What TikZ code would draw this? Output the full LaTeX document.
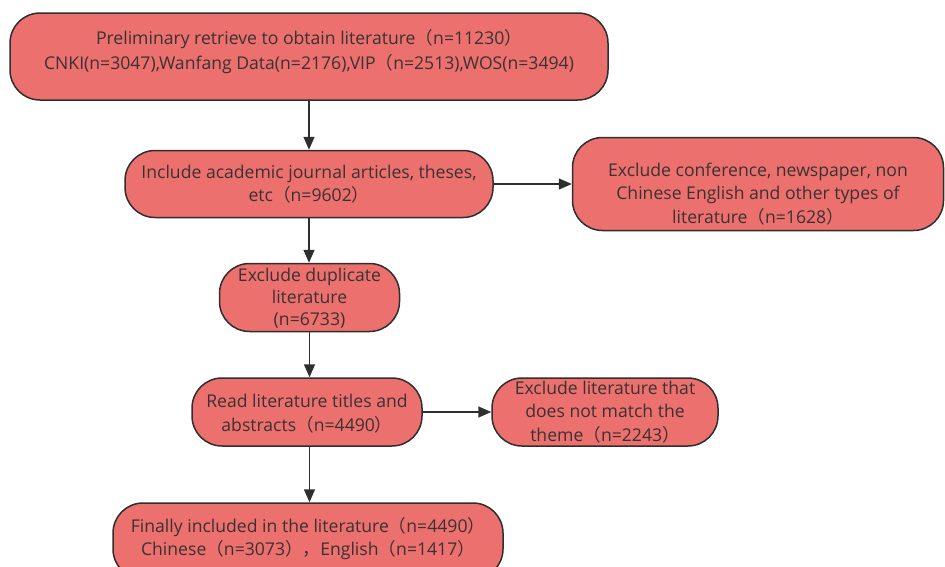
\documentclass[tikz,border=0pt]{standalone}
\usepackage{fontspec}
\setmainfont{Open Sans}
\newfontfamily\cjkfont{Noto Sans CJK SC}
\newcommand{\lp}{{\cjkfont （}}
\newcommand{\rp}{{\cjkfont ）}}
\newcommand{\fcomma}{{\cjkfont ，}}
\usetikzlibrary{arrows.meta}
\definecolor{boxfill}{HTML}{EC706E}
\definecolor{boxline}{HTML}{2E2E2E}
\definecolor{txt}{HTML}{3A3232}
\tikzset{
  flowbox/.style={draw=boxline, line width=1.5pt, fill=boxfill, rounded corners=30pt,
    align=center, text=txt, inner sep=0pt,
    font=\fontsize{17.6}{23.5}\selectfont},
  boxtext/.style={align=center, text=txt, inner sep=0pt},
  flowarrow/.style={draw=boxline, line width=1.5pt, -{Triangle[length=13pt,width=11pt]}}
}
\begin{document}
\begin{tikzpicture}[x=1pt,y=-1pt]
\useasboundingbox (0,0) rectangle (945,566);
\node[flowbox, minimum width=598pt, minimum height=87pt] (b1) at (309,56.5) {};
\node[boxtext, font=\fontsize{17.6}{25}\selectfont] (t1) at (309,52)
  {Preliminary retrieve to obtain literature\lp n=11230\rp\\
   CNKI(n=3047),Wanfang Data(n=2176),VIP\lp n=2513),WOS(n=3494)};
\node[flowbox, minimum width=368pt, minimum height=67pt] (b2) at (309,184)
  {Include academic journal articles, theses,\\ etc\lp n=9602\rp};
\node[flowbox, minimum width=371pt, minimum height=93pt] (b3) at (758,184) {};
\node[boxtext, font=\fontsize{17.6}{23.5}\selectfont] (t3) at (758,194)
  {Exclude conference, newspaper, non\\ Chinese English and other types of\\ literature\lp n=1628\rp};
\node[flowbox, minimum width=180pt, minimum height=68pt] (b4) at (309.5,297.5) {};
\node[boxtext, font=\fontsize{17.6}{22}\selectfont] (t4) at (309.5,298.5)
  {Exclude duplicate\\ literature\\ (n=6733)};
\node[flowbox, minimum width=230pt, minimum height=68pt] (b5) at (307,412) {};
\node[boxtext, font=\fontsize{17.6}{23.5}\selectfont] (t5) at (307,413.5)
  {Read literature titles and\\ abstracts\lp n=4490\rp};
\node[flowbox, minimum width=226pt, minimum height=68pt] (b6) at (605,412)
  {Exclude literature that\\ does not match the\\ theme\lp n=2243\rp};
\node[flowbox, minimum width=390pt, minimum height=76pt] (b7) at (308,541) {};
\node[boxtext, font=\fontsize{17.6}{23}\selectfont] (t7) at (308,539)
  {Finally included in the literature\lp n=4490\rp\\
   Chinese\lp n=3073\rp\fcomma English\lp n=1417\rp};
\draw[flowarrow] (b1.south) -- (b1.south |- b2.north);
\draw[flowarrow] (b2.east) -- (b3.west);
\draw[flowarrow] (b2.south) -- (b2.south |- b4.north);
\draw[flowarrow] (b4.south) -- (b4.south |- b5.north);
\draw[flowarrow] (b5.east) -- (b6.west);
\draw[flowarrow] (b4.south |- b5.south) -- (b4.south |- b7.north);
\end{tikzpicture}
\end{document}
